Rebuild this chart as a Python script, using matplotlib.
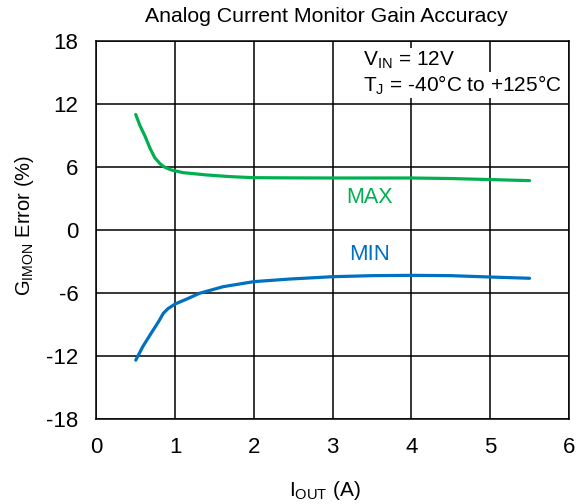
import numpy as np
import matplotlib
matplotlib.use('Agg')
import matplotlib.pyplot as plt

plt.rcParams['font.family'] = ['Liberation Sans', 'DejaVu Sans']
plt.rcParams['mathtext.fontset'] = 'custom'
plt.rcParams['mathtext.rm'] = 'Liberation Sans'
plt.rcParams['axes.unicode_minus'] = False

# output current (A) vs gain error (%)
iout_max = [0.5, 0.55, 0.62, 0.68, 0.74, 0.81, 0.87, 0.95, 1.1, 1.4, 1.7, 2.0,
            2.5, 3.0, 3.5, 4.0, 4.5, 5.0, 5.5]
err_max = [11.0, 10.0, 8.9, 7.8, 6.9, 6.3, 5.97, 5.72, 5.46, 5.24, 5.08, 4.98,
           4.96, 4.95, 4.95, 4.95, 4.9, 4.8, 4.7]

iout_min = [0.5, 0.59, 0.7, 0.79, 0.85, 0.91, 1.0, 1.15, 1.31, 1.61, 2.0, 2.46,
            3.0, 3.5, 4.0, 4.5, 5.0, 5.5]
err_min = [-12.4, -11.1, -9.78, -8.73, -7.94, -7.49, -7.05, -6.57, -6.03, -5.4, -4.92, -4.67,
           -4.45, -4.35, -4.32, -4.35, -4.48, -4.6]

xticks = [0, 1, 2, 3, 4, 5, 6]
yticks = [-18, -12, -6, 0, 6, 12, 18]

green = '#00B050'
blue = '#0070C0'

fig = plt.figure(figsize=(5.77, 5.04), dpi=100)
ax = fig.add_axes([0.167, 0.1687, 0.819, 0.75])

ax.plot(iout_max, err_max, color=green, lw=2.3, solid_capstyle='round', solid_joinstyle='round')
ax.plot(iout_min, err_min, color=blue, lw=2.3, solid_capstyle='round', solid_joinstyle='round')

ax.set_xlim(0, 6)
ax.set_ylim(-18, 18)
ax.set_xticks(xticks)
ax.set_yticks(yticks)
ax.grid(True, color='black', lw=1.1)
ax.set_axisbelow(True)
for sp in ax.spines.values():
    sp.set_color('black')
    sp.set_linewidth(1.1)
ax.tick_params(length=0, labelsize=16, pad=13)

ax.text(3.47, 3.05, 'MAX', color=green, fontsize=15.5, ha='center', va='center')
ax.text(3.47, -2.3, 'MIN', color=blue, fontsize=16, ha='center', va='center')

# operating conditions, on a white patch over the grid
box = dict(facecolor='white', edgecolor='none', pad=1)
ax.text(3.38, 16.2, r'$\mathregular{V_{IN}}$ = 12V', fontsize=15, ha='left', va='center',
        bbox=box)
ax.text(3.38, 13.8, r'$\mathregular{T_{J}}$ = -40°C to +125°C', fontsize=15, ha='left',
        va='center', bbox=box)

fig.text(0.565, 1 - 17 / 504, 'Analog Current Monitor Gain Accuracy', fontsize=15.3,
         ha='center', va='center')
fig.text(325 / 577, 1 - 491 / 504, r'$\mathregular{I_{OUT}}$ (A)', fontsize=15,
         ha='center', va='center')
fig.text(24 / 577, 1 - 225 / 504, r'$\mathregular{G_{IMON}}$ Error (%)', fontsize=14.5,
         ha='center', va='center', rotation=90)

fig.savefig('out.png', dpi=100)
